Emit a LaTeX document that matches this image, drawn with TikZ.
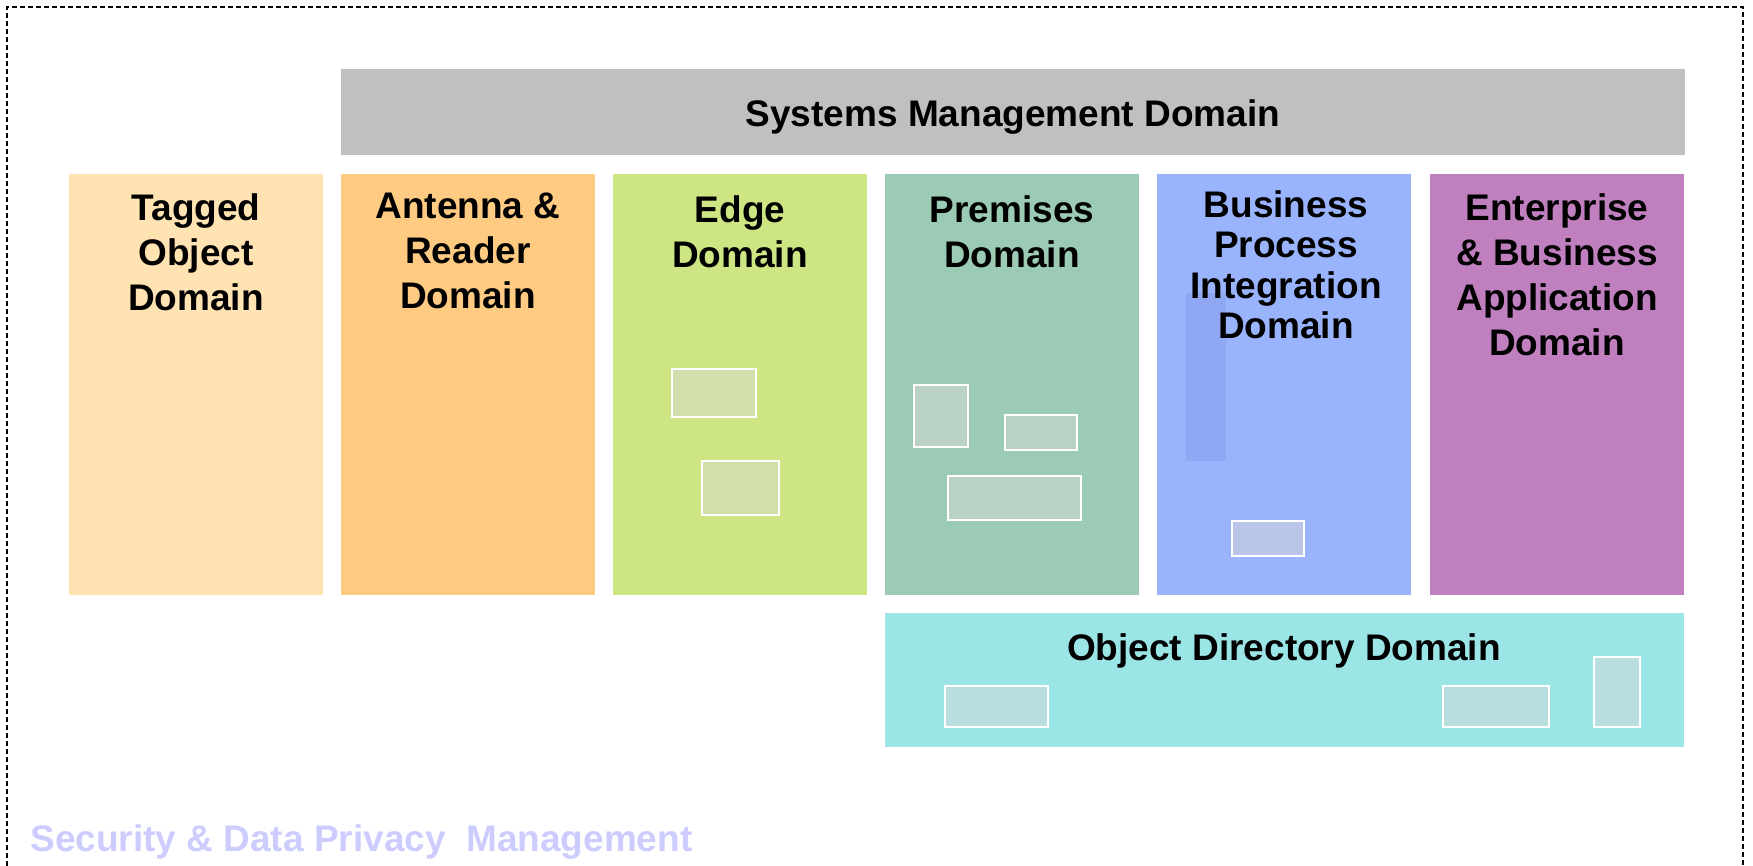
\documentclass[tikz,border=0pt]{standalone}
\usepackage{fontspec}
\setmainfont{Liberation Sans}
\definecolor{sysgray}{HTML}{C0C0C0}
\definecolor{tagc}{HTML}{FFE3B3}
\definecolor{antc}{HTML}{FFCB82}
\definecolor{edgec}{HTML}{CDE582}
\definecolor{premc}{HTML}{9BCBB4}
\definecolor{busc}{HTML}{99B3FD}
\definecolor{busdark}{HTML}{90A8F4}
\definecolor{entc}{HTML}{C080BF}
\definecolor{objc}{HTML}{9BE5E6}
\definecolor{secc}{HTML}{CCCCFF}
\definecolor{minifill}{HTML}{D9D9D9}
\begin{document}
\begin{tikzpicture}[x=0.5pt,y=-0.5pt,
  dom/.style={draw=none, inner sep=0pt, outer sep=0pt, anchor=north west,
              minimum width=127pt, minimum height=210.5pt},
  lbl/.style={font=\bfseries\fontsize{18.5}{22.5}\selectfont, align=center,
              inner sep=0pt, anchor=north},
  mini/.style={draw=white, line width=1.1pt, fill=minifill, fill opacity=0.5, draw opacity=1}]
\useasboundingbox (0,0) rectangle (1753,866);
% dashed frame (open at the bottom)
\draw[line width=0.6pt, dash pattern=on 2.5pt off 1.5pt] (7,866) -- (7,7) -- (1743,7) -- (1743,866);
% systems management bar
\node[dom, fill=sysgray, minimum width=672pt, minimum height=43pt] (sys) at (341,69) {};
% domain columns
\node[dom, fill=tagc] (tag) at (69,174) {};
\node[dom, fill=antc] (ant) at (341,174) {};
\node[dom, fill=edgec] (edge) at (613,174) {};
\node[dom, fill=premc] (prem) at (885,174) {};
\node[dom, fill=busc] (bus) at (1157,174) {};
\node[dom, fill=entc] (ent) at (1430,174) {};
\node[dom, fill=objc, minimum width=399.5pt, minimum height=67pt] (obj) at (885,613) {};
% inner decorative shapes
\fill[busdark] (1186,293) rectangle (1226,461);
\draw[mini] (672,369) rectangle (756,417);
\draw[mini] (702,461) rectangle (779,515);
\draw[mini] (914,385) rectangle (968,447);
\draw[mini] (1005,415) rectangle (1077,450);
\draw[mini] (948,476) rectangle (1081,520);
\draw[mini] (1232,521) rectangle (1304,556);
\draw[mini] (945,686) rectangle (1048,727);
\draw[mini] (1443,686) rectangle (1549,727);
\draw[mini] (1594,657) rectangle (1640,727);
% labels
\node[lbl, anchor=center] (systxt) at ([yshift=-2.5pt]sys.center) {Systems Management Domain};
\node[lbl] (tagtxt) at (196,193) {Tagged\\Object\\Domain};
\node[lbl] (anttxt) at (468,193) {Antenna \&\\Reader\\Domain};
\node[lbl] (edgetxt) at (740,195) {Edge\\Domain};
\node[lbl] (premtxt) at (1012,195) {Premises\\Domain};
\node[lbl, font=\bfseries\fontsize{18.5}{20.25}\selectfont] (bustxt) at (1286,190) {Business\\Process\\Integration\\Domain};
\node[lbl] (enttxt) at (1557,193) {Enterprise\\\& Business\\Application\\Domain};
\node[lbl] (objtxt) at (1284,633) {Object Directory Domain};
\node[font=\bfseries\fontsize{18.5}{22.5}\selectfont, text=secc, inner sep=0pt, anchor=base west] (sectxt) at (30,851) {Security \& Data Privacy\ \ Management};
\end{tikzpicture}
\end{document}
